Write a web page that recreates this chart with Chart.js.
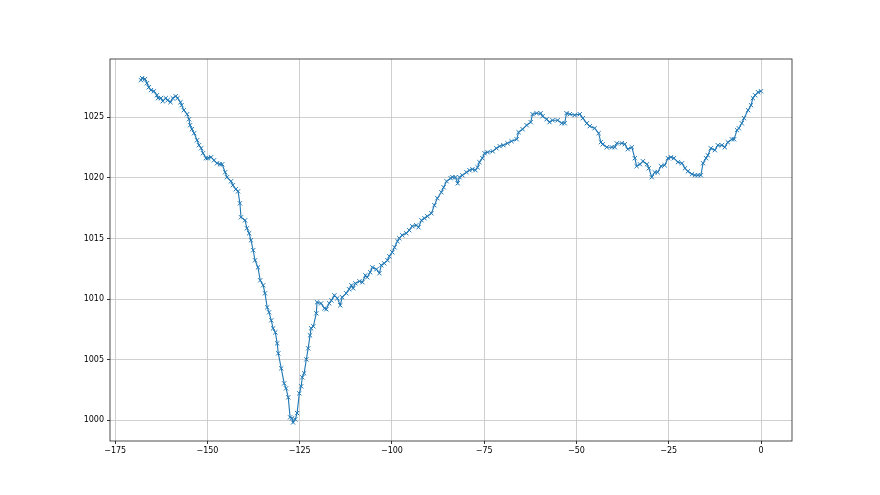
<!DOCTYPE html>
<html>
<head>
<meta charset="utf-8">
<script src="https://cdn.jsdelivr.net/npm/chart.js@4/dist/chart.umd.min.js"></script>
<style>
    body { margin: 0; background: #fff; }
    canvas { display: block; }
</style>
</head>
<body>
<canvas id="pressureChart" width="880" height="495"></canvas>
<script>
// Hours relative to now (x) and pressure readings (y)
const hours = [
    -168.0, -167.7, -166.9, -166.4, -165.9, -165.3, -164.5, -163.7, -163.4, -162.6,
    -162.1, -161.3, -160.8, -160.0, -159.4, -158.6, -158.1, -157.3, -157.0, -156.4,
    -155.5, -155.0, -154.7, -154.2, -153.6, -152.8, -152.3, -151.7, -151.2, -150.4,
    -149.9, -149.0, -148.2, -147.4, -146.6, -146.0, -145.2, -144.7, -143.6, -143.1,
    -142.3, -141.7, -141.2, -140.9, -139.8, -139.3, -138.7, -138.2, -137.6, -137.1,
    -136.3, -135.7, -134.9, -134.4, -133.8, -133.3, -132.7, -132.2, -131.6, -131.1,
    -130.8, -130.0, -129.2, -128.7, -128.1, -127.6, -127.1, -126.8, -126.2, -125.7,
    -125.1, -124.6, -124.3, -123.8, -123.2, -122.7, -122.2, -121.9, -121.3, -120.5,
    -120.3, -119.2, -118.3, -117.8, -117.0, -116.4, -115.6, -114.8, -114.0, -113.5,
    -112.4, -111.6, -111.0, -110.5, -109.9, -108.8, -108.0, -107.2, -106.7, -105.9,
    -105.3, -104.2, -103.4, -102.9, -102.1, -101.2, -100.7, -99.9, -99.3, -98.5,
    -98.0, -97.2, -96.1, -95.3, -94.5, -93.4, -92.8, -92.0, -91.2, -90.4,
    -89.3, -88.5, -87.7, -86.6, -86.0, -85.2, -84.1, -83.6, -82.8, -82.2,
    -81.7, -80.9, -79.8, -79.0, -78.2, -77.4, -76.8, -76.3, -75.5, -74.9,
    -74.1, -72.7, -71.7, -70.8, -69.8, -68.7, -67.6, -66.2, -65.7, -64.6,
    -63.5, -62.4, -61.9, -60.8, -59.7, -59.2, -58.1, -57.3, -56.5, -55.1,
    -54.0, -53.2, -52.7, -51.8, -50.5, -49.1, -48.3, -47.2, -46.4, -45.1,
    -44.0, -43.4, -42.9, -41.8, -40.4, -39.6, -39.1, -37.7, -36.9, -36.1,
    -35.0, -34.2, -33.7, -32.8, -32.0, -30.9, -30.4, -29.6, -28.8, -28.0,
    -27.1, -26.1, -25.2, -24.4, -23.6, -22.5, -21.4, -20.6, -19.8, -18.7,
    -17.9, -17.1, -16.3, -15.7, -14.9, -14.4, -13.6, -12.5, -11.7, -10.6,
    -9.8, -9.0, -7.9, -7.3, -6.5, -6.0, -5.2, -4.6, -3.5, -2.7,
    -2.2, -1.6, -0.8, 0.0
];

const pressure = [
    1028.05, 1028.22, 1028.14, 1027.80, 1027.47, 1027.23, 1027.14, 1026.81, 1026.57, 1026.57,
    1026.32, 1026.57, 1026.40, 1026.24, 1026.57, 1026.73, 1026.57, 1026.24, 1025.99, 1025.58,
    1025.25, 1024.83, 1024.34, 1024.01, 1023.68, 1023.10, 1022.69, 1022.44, 1022.03, 1021.62,
    1021.62, 1021.70, 1021.45, 1021.20, 1021.12, 1021.12, 1020.46, 1020.05, 1019.72, 1019.39,
    1019.06, 1018.89, 1017.90, 1016.75, 1016.50, 1015.84, 1015.43, 1014.85, 1014.03, 1013.20,
    1012.62, 1011.55, 1011.14, 1010.48, 1009.32, 1008.91, 1008.25, 1007.59, 1007.26, 1006.35,
    1005.53, 1004.29, 1003.05, 1002.64, 1001.90, 1000.25, 1000.17, 999.83, 1000.08, 1000.60,
    1002.23, 1002.81, 1003.55, 1003.88, 1005.03, 1005.94, 1007.01, 1007.59, 1007.76, 1008.83,
    1009.74, 1009.65, 1009.24, 1009.16, 1009.65, 1009.90, 1010.31, 1010.07, 1009.49, 1010.15,
    1010.48, 1010.81, 1011.14, 1010.89, 1011.30, 1011.47, 1011.39, 1011.96, 1011.80, 1012.21,
    1012.62, 1012.46, 1012.13, 1012.79, 1012.95, 1013.20, 1013.53, 1013.86, 1014.27, 1014.77,
    1015.02, 1015.27, 1015.43, 1015.68, 1016.01, 1016.09, 1015.92, 1016.50, 1016.67, 1016.83,
    1017.08, 1017.74, 1018.32, 1018.81, 1019.22, 1019.72, 1019.97, 1020.05, 1020.05, 1019.55,
    1020.05, 1020.21, 1020.46, 1020.63, 1020.71, 1020.63, 1020.87, 1021.29, 1021.62, 1022.03,
    1022.11, 1022.19, 1022.44, 1022.61, 1022.69, 1022.85, 1023.02, 1023.18, 1023.76, 1024.01,
    1024.34, 1024.59, 1025.25, 1025.33, 1025.33, 1025.08, 1024.83, 1024.59, 1024.75, 1024.75,
    1024.50, 1024.50, 1025.33, 1025.25, 1025.17, 1025.25, 1024.92, 1024.50, 1024.26, 1024.09,
    1023.68, 1022.94, 1022.77, 1022.52, 1022.52, 1022.52, 1022.85, 1022.85, 1022.77, 1022.36,
    1022.52, 1021.62, 1020.96, 1021.12, 1021.37, 1021.12, 1020.79, 1020.05, 1020.46, 1020.46,
    1020.96, 1021.04, 1021.62, 1021.70, 1021.62, 1021.29, 1021.20, 1020.79, 1020.54, 1020.30,
    1020.21, 1020.21, 1020.21, 1021.20, 1021.62, 1021.86, 1022.44, 1022.28, 1022.69, 1022.69,
    1022.52, 1022.94, 1023.18, 1023.18, 1023.93, 1024.09, 1024.50, 1024.92, 1025.58, 1025.99,
    1026.57, 1026.81, 1027.06, 1027.14
];

// Tick labels
const xTicks = [-175, -150, -125, -100, -75, -50, -25, 0];
const yTicks = [1000, 1005, 1010, 1015, 1020, 1025];

const lineColor = '#1f77b4';
const gridColor = '#c4c4c4';
const tickFont = { family: 'DejaVu Sans', size: 8 };

// plain numbers with a real minus sign, no thousands separator
const fmt = (v) => (v < 0 ? '\u2212' + Math.abs(v) : String(v));

// Draw the full box round the plot area, like matplotlib spines
const frame = {
    id: 'frame',
    afterDraw(chart) {
        const { ctx, chartArea: a } = chart;
        ctx.save();
        ctx.strokeStyle = '#222';
        ctx.lineWidth = 0.8;
        ctx.strokeRect(a.left, a.top, a.right - a.left, a.bottom - a.top);
        ctx.restore();
    }
};

const ctx = document.getElementById('pressureChart').getContext('2d');
new Chart(ctx, {
    type: 'scatter',
    data: {
        datasets: [{
            data: hours.map((h, i) => ({ x: h, y: pressure[i] })),
            showLine: true,
            borderColor: lineColor,
            borderWidth: 1.1,
            pointStyle: 'crossRot',
            pointRadius: 3,
            pointBorderColor: lineColor,
            pointBorderWidth: 1,
            pointBackgroundColor: lineColor,
            tension: 0
        }]
    },
    options: {
        responsive: false,
        animation: false,
        layout: { padding: { left: 0, top: 59, right: 88, bottom: 0 } },
        plugins: {
            legend: { display: false },
            tooltip: { enabled: false }
        },
        scales: {
            x: {
                type: 'linear',
                min: -176.4,
                max: 8.4,
                afterBuildTicks: (scale) => { scale.ticks = xTicks.map(v => ({ value: v })); },
                afterFit: (scale) => { scale.height = 54; },
                grid: { color: gridColor, lineWidth: 0.8, tickColor: '#000', tickLength: 3 },
                border: { display: false },
                ticks: { color: '#000', font: tickFont, padding: 2, maxRotation: 0, autoSkip: false, callback: fmt }
            },
            y: {
                type: 'linear',
                min: 998.3,
                max: 1029.8,
                afterBuildTicks: (scale) => { scale.ticks = yTicks.map(v => ({ value: v })); },
                afterFit: (scale) => { scale.width = 110; },
                grid: { color: gridColor, lineWidth: 0.8, tickColor: '#000', tickLength: 3 },
                border: { display: false },
                ticks: { color: '#000', font: tickFont, padding: 3, autoSkip: false, callback: fmt }
            }
        }
    },
    plugins: [frame]
});
</script>
</body>
</html>
